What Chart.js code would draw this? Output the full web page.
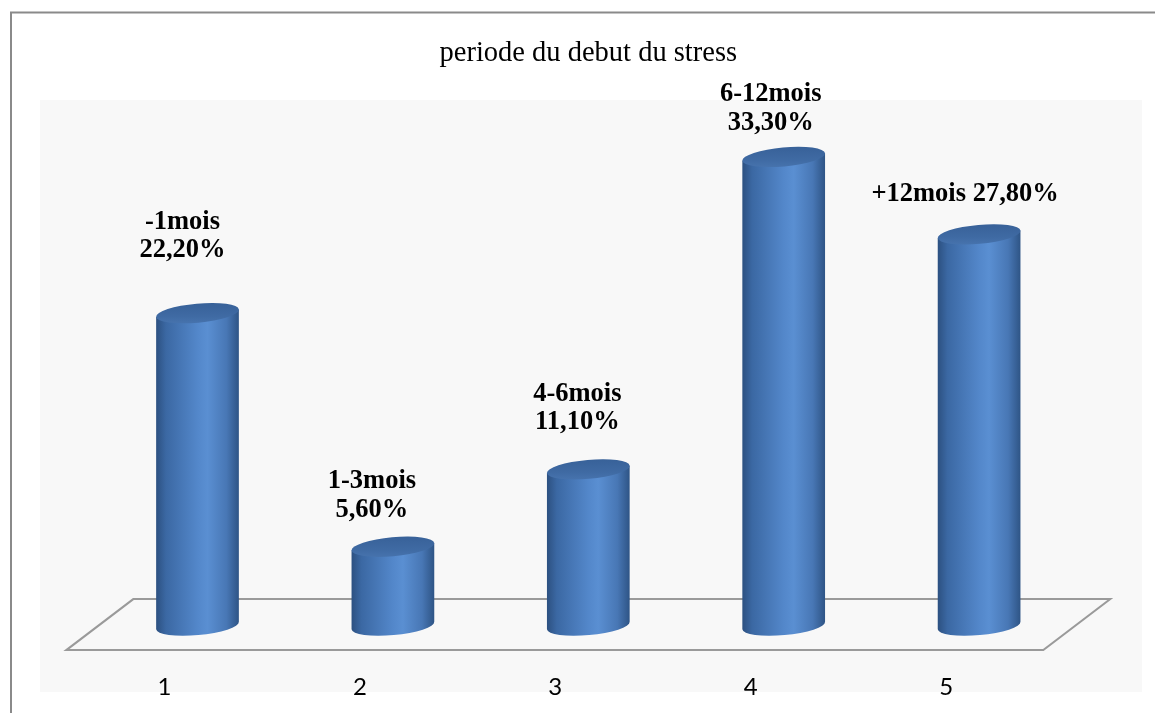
<!DOCTYPE html>
<html>
<head>
<meta charset="utf-8">
<title>periode du debut du stress</title>
<script src="https://cdn.jsdelivr.net/npm/chart.js@4.4.1/dist/chart.umd.min.js"></script>
<style>
  html, body { margin: 0; padding: 0; background: #ffffff; }
  canvas { display: block; }
</style>
</head>
<body>
<canvas id="chart" width="1155" height="713"></canvas>
<script>
// ---- data ----
const categories = ['1', '2', '3', '4', '5'];
const periods = ['-1mois', '1-3mois', '4-6mois', '6-12mois', '+12mois'];
const values = [22.2, 5.6, 11.1, 33.3, 27.8];
const singleLineLabel = [false, false, false, false, true];
const chartTitle = 'periode du debut du stress';

// ---- label placement: [dx from bar centre, dy of last baseline from bar top] ----
const labelShift = [[-15, -56], [-21, -30], [-11, -40], [-13, -27], [-14, -33]];

function fmtPct(v) {
  return v.toFixed(2).replace('.', ',') + '%';
}

// depth of the fake 3D floor
const DEPTH_X = 33.5;
const DEPTH_Y = 25;
const TILT = -0.09;      // rotation of the cylinder caps
const CAP_RY = 9.5;      // vertical radius of the caps

const backdrop = {
  id: 'backdrop',
  beforeDraw(chart) {
    const ctx = chart.ctx;
    const area = chart.chartArea;
    const y0 = chart.scales.y.getPixelForValue(0);
    ctx.save();
    ctx.fillStyle = '#ffffff';
    ctx.fillRect(0, 0, chart.width, chart.height);
    // outer frame
    ctx.strokeStyle = '#8a8a8a';
    ctx.lineWidth = 2;
    ctx.strokeRect(11, 12.5, chart.width + 20, chart.height + 20);
    // plot panel
    ctx.fillStyle = '#f8f8f8';
    ctx.fillRect(40, 100, 1102, 592);
    // floor
    ctx.beginPath();
    ctx.moveTo(area.left - DEPTH_X, y0 + DEPTH_Y - 0.5);
    ctx.lineTo(area.right - DEPTH_X, y0 + DEPTH_Y - 0.5);
    ctx.lineTo(area.right + DEPTH_X, y0 - DEPTH_Y - 1.5);
    ctx.lineTo(area.left + DEPTH_X, y0 - DEPTH_Y - 1.5);
    ctx.closePath();
    ctx.strokeStyle = '#9a9a9a';
    ctx.lineWidth = 2;
    ctx.stroke();
    ctx.restore();
  }
};

const cylinders = {
  id: 'cylinders',
  afterDatasetsDraw(chart) {
    const ctx = chart.ctx;
    const meta = chart.getDatasetMeta(0);
    meta.data.forEach((bar, i) => {
      const cx = bar.x;
      const top = bar.y;
      const base = bar.base;
      const rx = bar.width / 2;
      const ex = rx * Math.cos(TILT);
      const ey = rx * Math.sin(TILT);

      ctx.save();
      // body
      const g = ctx.createLinearGradient(cx - rx, 0, cx + rx, 0);
      g.addColorStop(0, '#2c5080');
      g.addColorStop(0.12, '#3b68a3');
      g.addColorStop(0.5, '#5387ca');
      g.addColorStop(0.62, '#5a8fd2');
      g.addColorStop(0.85, '#4877b5');
      g.addColorStop(1, '#2e5485');
      ctx.beginPath();
      ctx.moveTo(cx - ex, top - ey);
      ctx.lineTo(cx - ex, base - ey);
      ctx.ellipse(cx, base, rx, CAP_RY, TILT, Math.PI, 0, true);
      ctx.lineTo(cx + ex, top + ey);
      ctx.closePath();
      ctx.fillStyle = g;
      ctx.fill();

      // cap
      const cg = ctx.createLinearGradient(0, top - CAP_RY - 4, 0, top + CAP_RY + 4);
      cg.addColorStop(0, '#365f96');
      cg.addColorStop(0.6, '#3f6aa3');
      cg.addColorStop(1, '#4a77b2');
      ctx.beginPath();
      ctx.ellipse(cx, top, rx, CAP_RY, TILT, 0, Math.PI * 2);
      ctx.fillStyle = cg;
      ctx.fill();
      ctx.restore();

      // value label
      const [dx, dy] = labelShift[i];
      const lines = singleLineLabel[i]
        ? [periods[i] + ' ' + fmtPct(values[i])]
        : [periods[i], fmtPct(values[i])];
      ctx.save();
      ctx.fillStyle = '#000000';
      ctx.font = 'bold 26.5px "Liberation Serif", "Times New Roman", serif';
      ctx.textAlign = 'center';
      ctx.textBaseline = 'alphabetic';
      const lh = 28.5;
      const lastY = top + dy;
      lines.forEach((t, k) => {
        ctx.fillText(t, cx + dx, lastY - (lines.length - 1 - k) * lh);
      });
      ctx.restore();
    });
  }
};

new Chart(document.getElementById('chart'), {
  type: 'bar',
  data: {
    labels: categories,
    datasets: [{
      data: values,
      backgroundColor: 'rgba(0,0,0,0)',
      borderWidth: 0,
      categoryPercentage: 1,
      barPercentage: 0.425
    }]
  },
  options: {
    responsive: false,
    animation: false,
    layout: { padding: { left: 99.8, right: 78.2, top: 0, bottom: 11.6 } },
    plugins: {
      legend: { display: false },
      tooltip: { enabled: false },
      title: {
        display: true,
        text: chartTitle,
        color: '#000000',
        font: { family: '"Liberation Serif", "Times New Roman", serif', size: 28.5, weight: 'normal', lineHeight: 1.2 },
        padding: { top: 36.5, bottom: 20.1 }
      }
    },
    scales: {
      x: {
        grid: { display: false, drawTicks: false },
        border: { display: false },
        ticks: {
          color: '#000000',
          font: { family: 'Lato, "DejaVu Sans", sans-serif', size: 24, lineHeight: 1.2 },
          padding: 47,
          labelOffset: -33
        },
        afterFit(scale) { scale.height = 75.8; }
      },
      y: {
        display: false,
        min: 0,
        max: 38
      }
    }
  },
  plugins: [backdrop, cylinders]
});
</script>
</body>
</html>
